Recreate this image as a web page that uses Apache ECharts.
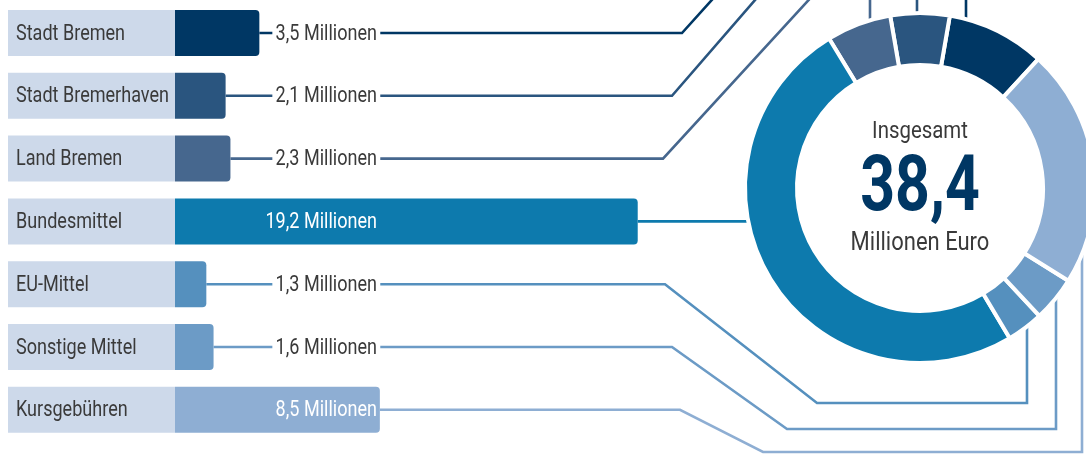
<!DOCTYPE html>
<html><head><meta charset="utf-8">
<script src="https://cdn.jsdelivr.net/npm/echarts@6/dist/echarts.min.js"></script>
<style>html,body{margin:0;padding:0;background:#fff}#c{width:1086px;height:454px}</style>
</head><body><div id="c"></div>
<script>
// ---- data ----
const categories = ['Stadt Bremen', 'Stadt Bremerhaven', 'Land Bremen', 'Bundesmittel', 'EU-Mittel', 'Sonstige Mittel', 'Kursgebühren'];
const values = [3.5, 2.1, 2.3, 19.2, 1.3, 1.6, 8.5];
const totalValue = 38.4;
const centerTop = 'Insgesamt';
const centerBottom = 'Millionen Euro';
const unitText = ' Millionen';

// ---- style / layout ----
const colors = ['#003764', '#2a557f', '#46678e', '#0d7aad', '#5590be', '#6c9bc6', '#8eaed3'];
const BOX_COLOR = '#cdd9ea';
const TEXT_COLOR = '#3a3a3a';
const FONT = 'Roboto, "Noto Sans", sans-serif';
const SX = 0.82;
const CX = 920, CY = 188, R_IN = 125, R_OUT = 173;
const BOX_LEFT = 8, LABEL_RIGHT = 377, BAR_H = 46, PAD = 4;
const routes = [
  { elbow: 682, turn: [719, -8], vx: 966, dir: 'up' },
  { elbow: 672, turn: [762, -8], vx: 917, dir: 'up' },
  { elbow: 663, turn: [816, -8], vx: 870, dir: 'up' },
  { direct: true },
  { elbow: 665, turn: [817, 403], vx: 1027, dir: 'down' },
  { elbow: 672, turn: [787, 429], vx: 1056, dir: 'down' },
  { elbow: 680, turn: [763, 452], vx: 1082, dir: 'down' }
];

const fmt = v => v.toFixed(1).replace('.', ',');
const sum = values.reduce((a, b) => a + b, 0);
const startAngle = 90 - (values[0] + values[1] / 2) / sum * 360;
const rowData = values.map((v, i) => [v, i]);

const chart = echarts.init(document.getElementById('c'), null, { renderer: 'canvas' });

function edgeY(vx, dir) {
  const d = Math.sqrt(Math.max(0, R_OUT * R_OUT - (vx - CX) * (vx - CX)));
  return dir === 'up' ? CY - d + 4 : CY + d - 4;
}

function txt(x, y, text, size, align, fill, extra, sx) {
  const style = Object.assign({ text: text, x: 0, y: 0, align: align, verticalAlign: 'middle', fill: fill, font: size }, extra || {});
  return { type: 'text', x: x, y: y, scaleX: sx || SX, style: style };
}

function renderBack(params, api) {
  const i = api.value(1);
  const end = api.coord([api.value(0), i]);
  const start = api.coord([0, i]);
  const y = end[1];
  const r = routes[i];
  let pts;
  if (r.direct) {
    const d = Math.sqrt(R_OUT * R_OUT - (y - CY) * (y - CY));
    pts = [[end[0], y], [CX - d + 6, y]];
  } else {
    pts = [[end[0], y], [r.elbow, y], r.turn, [r.vx, r.turn[1]], [r.vx, edgeY(r.vx, r.dir)]];
  }
  return {
    type: 'group',
    children: [
      { type: 'rect', shape: { x: BOX_LEFT, y: y - BAR_H / 2, width: start[0] - BOX_LEFT, height: BAR_H }, style: { fill: BOX_COLOR } },
      { type: 'polyline', shape: { points: pts }, style: { stroke: colors[i], lineWidth: 2.6, fill: null } }
    ]
  };
}

function renderFront(params, api) {
  const i = api.value(1);
  const v = api.value(0);
  const end = api.coord([v, i]);
  const y = end[1];
  const inside = end[0] > LABEL_RIGHT + 2;
  const extra = inside ? {} : { backgroundColor: '#ffffff', padding: [2, PAD, 2, PAD] };
  const vx = inside ? LABEL_RIGHT : LABEL_RIGHT + PAD * SX;
  return {
    type: 'group',
    children: [
      txt(BOX_LEFT + 8, y + 1, categories[i], '22px ' + FONT, 'left', TEXT_COLOR),
      txt(vx, y + 1, fmt(v) + unitText, '22px ' + FONT, 'right', inside ? '#ffffff' : TEXT_COLOR, extra)
    ]
  };
}

chart.setOption({
  animation: false,
  grid: { left: 175, top: 1.6, width: 482, height: 439.6 },
  xAxis: { type: 'value', min: 0, max: 20, show: false },
  yAxis: { type: 'category', data: categories, inverse: true, show: false },
  series: [
    { type: 'custom', z: 1, silent: true, data: rowData, encode: { x: 0, y: 1 }, renderItem: renderBack, clip: false },
    {
      type: 'bar', z: 2, silent: true, barWidth: BAR_H,
      data: values.map((v, i) => ({ value: v, itemStyle: { color: colors[i], borderRadius: [0, 4, 4, 0] } }))
    },
    { type: 'custom', z: 3, silent: true, data: rowData, encode: { x: 0, y: 1 }, renderItem: renderFront, clip: false },
    {
      type: 'pie', z: 4, silent: true, center: [CX, CY], radius: [R_IN - 2, R_OUT + 2],
      clockwise: false, startAngle: startAngle, label: { show: false }, labelLine: { show: false },
      itemStyle: { borderColor: '#ffffff', borderWidth: 4 },
      data: categories.map((c, i) => ({ name: c, value: values[i], itemStyle: { color: colors[i] } }))
    }
  ],
  graphic: [
    Object.assign(txt(CX, 132, centerTop, '24px ' + FONT, 'center', TEXT_COLOR, null, 0.85), { z: 10 }),
    Object.assign(txt(CX, 191, fmt(totalValue), 'bold 77px ' + FONT, 'center', '#003764', null, 0.79), { z: 10 }),
    Object.assign(txt(CX, 244, centerBottom, '25px ' + FONT, 'center', TEXT_COLOR, null, 0.88), { z: 10 })
  ]
});
</script></body></html>
